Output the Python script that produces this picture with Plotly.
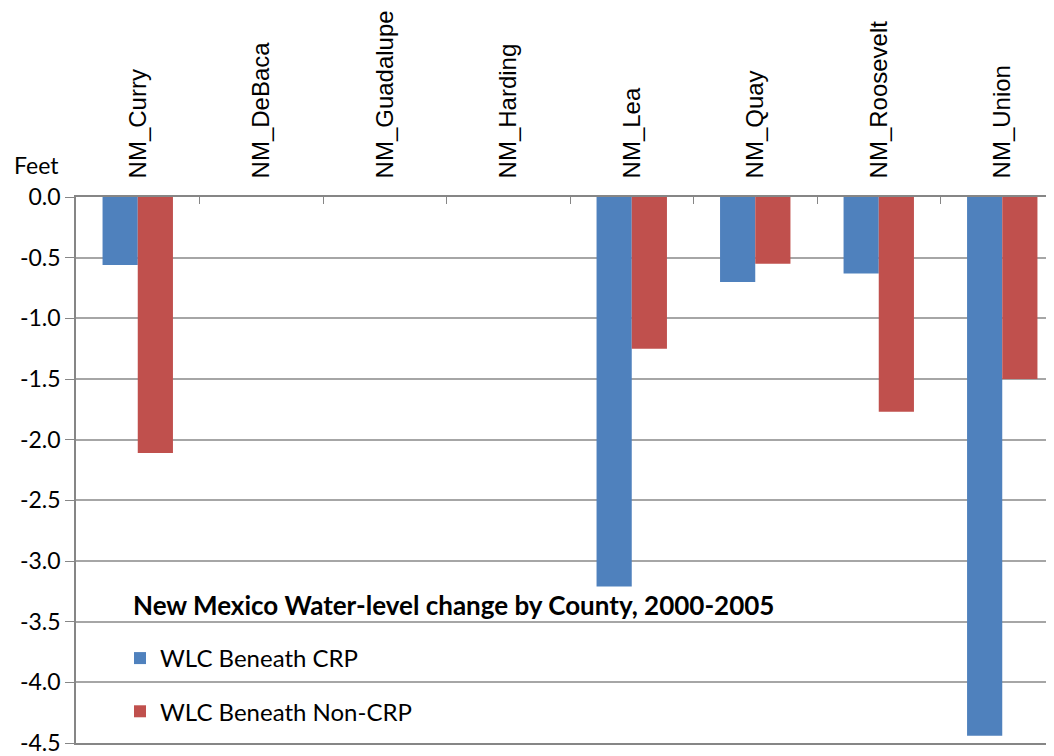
import plotly.graph_objects as go

counties = ["NM_Curry", "NM_DeBaca", "NM_Guadalupe", "NM_Harding", "NM_Lea", "NM_Quay", "NM_Roosevelt", "NM_Union"]
wlc_crp = [-0.56, None, None, None, -3.21, -0.70, -0.63, -4.44]
wlc_noncrp = [-2.11, None, None, None, -1.25, -0.55, -1.77, -1.50]
y_ticks = [0.0, -0.5, -1.0, -1.5, -2.0, -2.5, -3.0, -3.5, -4.0, -4.5]
y_tick_text = ["0.0", "-0.5", "-1.0", "-1.5", "-2.0", "-2.5", "-3.0", "-3.5", "-4.0", "-4.5"]
chart_title = "New Mexico Water-level change by County, 2000-2005"

FONT = "Lato"
CAT_FONT = "Liberation Sans"

fig = go.Figure()
fig.add_trace(go.Bar(name="WLC Beneath CRP", x=counties, y=wlc_crp,
                     marker=dict(color="#4F81BD", line=dict(width=0)), legendgroup="a"))
fig.add_trace(go.Bar(name="WLC Beneath Non-CRP", x=counties, y=wlc_noncrp,
                     marker=dict(color="#C0504D", line=dict(width=0)), legendgroup="b"))

# page body has an 8px margin, so the figure is sized/margined to compensate
fig.update_layout(
    width=1046, height=748,
    margin=dict(l=68, r=0, t=189, b=13, autoexpand=False),
    paper_bgcolor="white", plot_bgcolor="white",
    barmode="group", bargap=0.43, bargroupgap=0,
    font=dict(family=FONT, size=23, color="black"),
    showlegend=True,
    legend=dict(
        x=0.045, y=0.196, xanchor="left", yanchor="top",
        font=dict(size=24, family=FONT),
        tracegroupgap=19, traceorder="grouped",
        bgcolor="rgba(0,0,0,0)",
    ),
    xaxis=dict(
        side="top", tickangle=-90, ticks="inside", ticklen=7, tickcolor="#868686",
        tickson="boundaries", showline=True, linecolor="#868686", linewidth=1.5,
        mirror=True,
        range=[-0.5, 7.419], showgrid=False, tickfont=dict(size=24, family=CAT_FONT),
        ticklabelstandoff=12, automargin=False,
    ),
    yaxis=dict(
        range=[-4.5, 0], tickvals=y_ticks, ticktext=y_tick_text,
        ticks="outside", ticklen=9, tickcolor="#868686",
        showline=True, linecolor="#868686", linewidth=1.5,
        showgrid=True, gridcolor="#A6A6A6", gridwidth=1.5, zeroline=False,
        tickfont=dict(size=23, family=FONT), automargin=False,
        ticklabeloverflow="allow",
    ),
    annotations=[
        dict(text="Feet", x=-0.065, y=1.0586, xref="paper", yref="paper",
             xanchor="left", yanchor="middle", showarrow=False,
             font=dict(size=23, family=FONT)),
        dict(text="<b>" + chart_title + "</b>", x=0.0562, y=0.253, xref="paper", yref="paper",
             xanchor="left", yanchor="middle", showarrow=False,
             font=dict(size=26, family=FONT)),
    ],
)

fig.write_html("out.html")
